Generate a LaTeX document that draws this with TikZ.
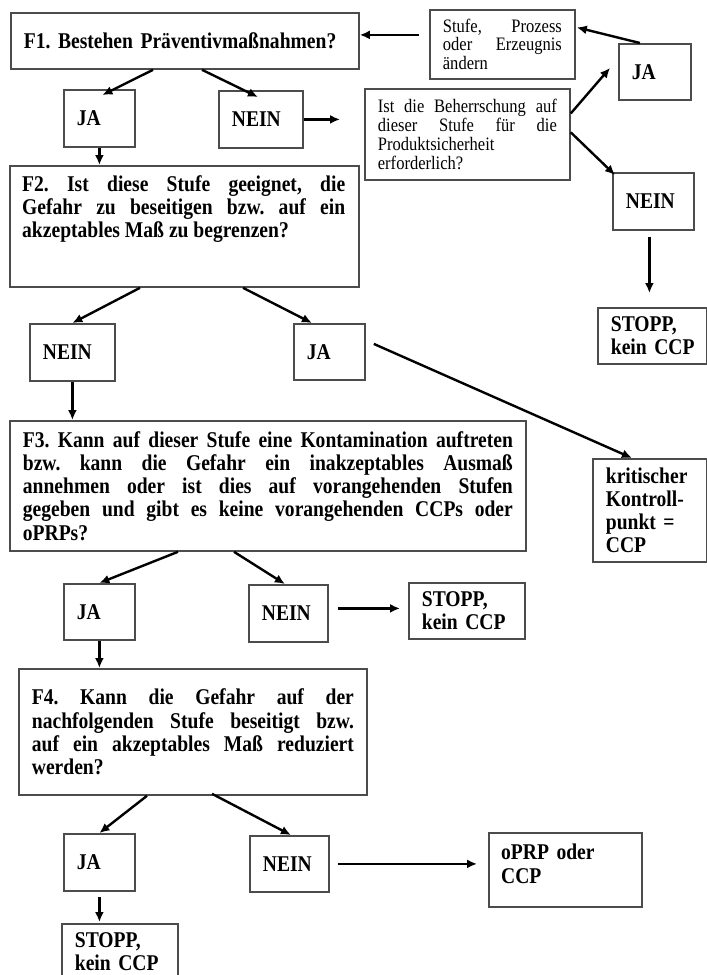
\documentclass[tikz,border=0pt]{standalone}
\usepackage{fontspec}
\setmainfont{Liberation Serif}[FakeStretch=0.87]
\usetikzlibrary{positioning, calc, arrows.meta}
\frenchspacing

\newcommand{\fbig}{\fontsize{22.5}{23.2}\selectfont}
\newcommand{\fsmall}{\fontsize{19}{18.7}\selectfont}

\tikzset{
  box/.style={draw=black!70, line width=1.8pt, anchor=north west, inner xsep=13pt, inner ysep=0pt, align=left, font=\bfseries\fbig},
  qbox/.style={box, align=justify},
  note/.style={box, align=justify, font=\fsmall},
  qtext/.style={inner sep=0pt, align=justify, font=\bfseries\fbig},
  arr/.style={-{Latex[length=10pt, width=9pt]}, line width=2.4pt},
}

\begin{document}
\begin{tikzpicture}[x=1pt, y=-1pt]
  \useasboundingbox (0,0) rectangle (707,975);

  % Question F1 and the loop on the right
  \node[box, text width=322pt, minimum height=56pt] (f1) at (10,12) {\mbox{F1. Bestehen Präventivmaßnahmen?}};
  \node[note, text width=119pt, minimum height=69pt] (stufe) at (429,9) {Stufe, Prozess\linebreak oder Erzeugnis\linebreak ändern};
  \node[box, text width=46pt, minimum height=56pt] (jatr) at (618,43) {JA};
  \node[box, text width=45pt, minimum height=57pt] (ja1) at (63,89) {JA};
  \node[box, text width=58pt, minimum height=57pt] (nein1) at (218,90) {NEIN};
  \node[note, text width=179pt, minimum height=91pt] (ist) at (364,88) {Ist die Beherrschung auf\linebreak dieser Stufe für die\linebreak Produktsicherheit\linebreak erforderlich?};
  \node[box, text width=55pt, minimum height=57pt] (neinr) at (612,172) {NEIN};
  \node[box, text width=83pt, minimum height=56pt] (stoppr) at (597,307) {STOPP,\\kein~CCP};

  % Question F2
  \node[box, minimum width=349pt, minimum height=121pt] (f2) at (9,165) {};
  \node[qtext, text width=323pt, below right=10pt and 13pt of f2.north west] (f2text) {F2. Ist diese Stufe geeignet, die\linebreak Gefahr zu beseitigen bzw. auf ein\linebreak akzeptables Maß zu begrenzen?};
  \node[box, text width=59pt, minimum height=57pt] (nein2) at (29,323) {NEIN};
  \node[box, text width=45pt, minimum height=56pt] (ja2) at (293,323) {JA};
  \node[box, text width=88pt, minimum height=103pt] (krit) at (592,458) {kritischer\\Kontroll-\\punkt~=\\CCP};

  % Question F3
  \node[qbox, text width=490pt, minimum height=130pt] (f3) at (9,420) {F3. Kann auf dieser Stufe eine Kontamination auftreten\linebreak bzw. kann die Gefahr ein inakzeptables Ausmaß\linebreak annehmen oder ist dies auf vorangehenden Stufen\linebreak gegeben und gibt es keine vorangehenden CCPs oder\linebreak oPRPs?};
  \node[box, text width=45pt, minimum height=56pt] (ja3) at (63,583) {JA};
  \node[box, text width=53pt, minimum height=57pt] (nein3) at (248,584) {NEIN};
  \node[box, text width=90pt, minimum height=56pt] (stopp3) at (408,582) {STOPP,\\kein~CCP};

  % Question F4
  \node[qbox, text width=322pt, minimum height=126pt] (f4) at (18,668) {F4. Kann die Gefahr auf der\linebreak nachfolgenden Stufe beseitigt bzw.\linebreak auf ein akzeptables Maß reduziert\linebreak werden?};
  \node[box, text width=45pt, minimum height=57pt] (ja4) at (63,833) {JA};
  \node[box, text width=53pt, minimum height=56pt] (nein4) at (249,835) {NEIN};
  \node[box, minimum width=153pt, minimum height=74pt] (oprp) at (488,832) {};
  \node[qtext, text width=127pt, align=left, below right=12pt and 13pt of oprp.north west] (oprptext) {oPRP oder\\CCP};
  \node[box, text width=90pt, minimum height=56pt] (stopp4) at (61,923) {STOPP,\\kein~CCP};

  % Connectors
  \draw[arr] ($(stufe.west)+(-10,-9.5)$) -- ($(f1.east)+(0,-6)$);
  \draw[arr] ($(jatr.north)+(-15,0)$) -- ($(stufe.east)+(1,-17)$);
  \draw[arr] ($(ist.east)+(0,-21)$) -- ($(jatr.west)+(-8,-4)$);
  \draw[arr] ($(ist.east)+(0,-2)$) -- ($(neinr.north west)+(3,3)$);
  \draw[arr] (nein1.east) -- ($(nein1.east -| ist.west)+(-24,0)$);
  \coordinate (nr) at ($(neinr.south)+(-4,6)$);
  \draw[arr] (nr) -- ($(nr |- stoppr.north)+(0,-14)$);
  \draw[arr] ($(f1.south west)+(143,0)$) -- ($(ja1.north)+(3,6)$);
  \draw[arr] ($(f1.south west)+(192,0)$) -- ($(nein1.north)+(-3,7)$);
  \draw[arr] (ja1.south) -- (ja1.south |- f2.north);
  \draw[arr] ($(f2.south west)+(131,0)$) -- (nein2.north);
  \draw[arr] ($(f2.south west)+(234,0)$) -- ($(ja2.north)+(-17.5,0)$);
  \draw[arr] (nein2.south) -- (nein2.south |- f3.north);
  \draw[arr] ($(ja2.east)+(8,-8)$) -- ($(krit.north)+(-18,0)$);
  \draw[arr] ($(f3.south west)+(169,0)$) -- (ja3.north);
  \draw[arr] ($(f3.south west)+(225,0)$) -- ($(nein3.north)+(-3.5,0)$);
  \coordinate (n3) at ($(nein3.east)+(9,-5)$);
  \draw[arr] (n3) -- ($(n3 -| stopp3.west)+(-8,0)$);
  \draw[arr] (ja3.south) -- (ja3.south |- f4.north);
  \draw[arr] ($(f4.south west)+(129,0)$) -- (ja4.north);
  \draw[arr] ($(f4.south west)+(194,-2)$) -- ($(nein4.north)+(1.5,0)$);
  \draw[arr] ($(nein4.east)+(8,0)$) -- ($(nein4.east -| oprp.west)+(-11,0)$);
  \draw[arr] ($(ja4.south)+(0,5)$) -- ($(ja4.south |- stopp4.north)+(0,-1)$);
\end{tikzpicture}
\end{document}
